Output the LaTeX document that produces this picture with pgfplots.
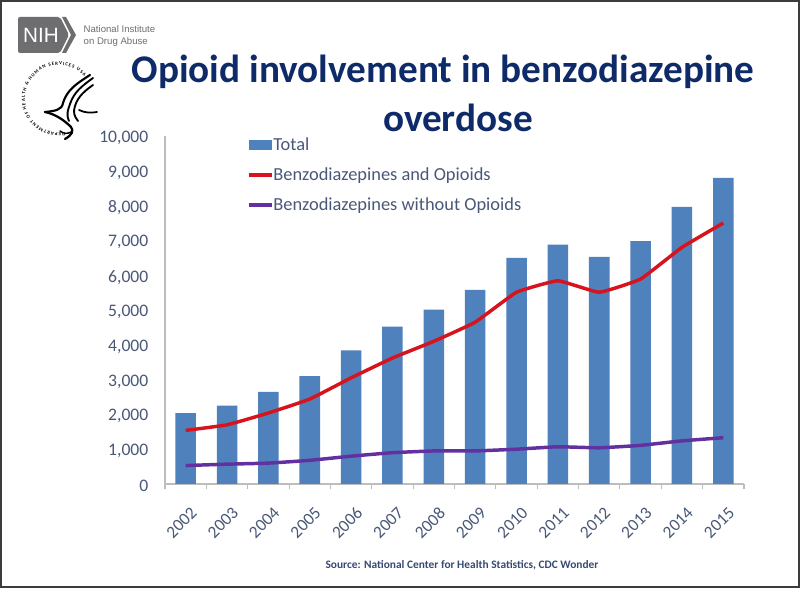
\documentclass[border=0pt]{standalone}
\usepackage{fontspec}
\setmainfont{Carlito}
\newfontfamily\arialfont{Liberation Sans}
\usepackage{pgfplots}
\pgfplotsset{compat=1.18}
\usetikzlibrary{decorations.text}
\definecolor{barblue}{HTML}{4F81BD}
\definecolor{linered}{HTML}{D7141E}
\definecolor{linepurple}{HTML}{6330A0}
\definecolor{titlenavy}{HTML}{0E2A68}
\definecolor{ticktext}{HTML}{4A5878}
\definecolor{axisgrey}{HTML}{BDBDBD}
\definecolor{nihgrey}{HTML}{6E6E70}
\definecolor{framegrey}{HTML}{3C3C3C}
\begin{document}
\begin{tikzpicture}
\useasboundingbox (0,0) rectangle (600pt,441.75pt);
\fill[white] (0,0) rectangle (600pt,441.75pt);
\draw[framegrey,line width=1.5pt] (0.5pt,1.2pt) rectangle (599.3pt,441.2pt);

\begin{axis}[
    at={(123.75pt,78.75pt)}, anchor=south west,
    scale only axis,
    width=434.25pt, height=261pt,
    xmin=-0.5, xmax=13.5, ymin=0, ymax=10000,
    axis lines=left,
    axis line style={axisgrey,line width=0.8pt,-},
    xtick=data,
    xticklabels={2002,2003,2004,2005,2006,2007,2008,2009,2010,2011,2012,2013,2014,2015},
    minor xtick={-0.5,0.5,...,13.5},
    ytick={0,1000,...,10000},
    scaled y ticks=false,
    yticklabel style={/pgf/number format/fixed,/pgf/number format/1000 sep={,},/pgf/number format/assume math mode=true},
    major tick length=0pt,
    minor tick length=3.8pt,
    tick align=outside,
    tick style={axisgrey,line width=0.8pt},
    x tick label style={rotate=45,anchor=north east,font=\fontsize{13}{13}\selectfont,text=ticktext,xshift=-6pt,yshift=-10.5pt},
    y tick label style={font=\fontsize{13.2}{13.2}\selectfont,text=ticktext,xshift=-9pt,yshift=-1.5pt},
    clip=false,
    legend cell align=left,
    legend style={draw=none,fill=none,at={(axis cs:1.48,9950)},anchor=north west,
        font=\fontsize{13.8}{13.8}\selectfont,text=ticktext,
        row sep=11.2pt,inner sep=0pt,nodes={inner sep=0pt}},
]
\addplot[ybar,bar width=15.4pt,draw=none,fill=barblue,
    legend image code/.code={\fill[barblue] (0cm,-3.7pt) rectangle (0.6cm,3.7pt);}] coordinates {
    (0,2040)(1,2250)(2,2650)(3,3100)(4,3840)(5,4520)(6,5010)(7,5575)
    (8,6500)(9,6880)(10,6530)(11,6980)(12,7960)(13,8800)};
\addlegendentry{Total}
\addplot[linered,line width=2.6pt,smooth,tension=0.2] coordinates {
    (0,1540)(1,1700)(2,2040)(3,2440)(4,3050)(5,3620)(6,4100)(7,4650)
    (8,5510)(9,5840)(10,5510)(11,5890)(12,6800)(13,7500)};
\addlegendentry{Benzodiazepines and Opioids}
\addplot[linepurple,line width=2.6pt,smooth,tension=0.2] coordinates {
    (0,530)(1,570)(2,600)(3,680)(4,800)(5,900)(6,950)(7,950)
    (8,1000)(9,1070)(10,1040)(11,1110)(12,1240)(13,1330)};
\addlegendentry{Benzodiazepines without Opioids}
\end{axis}

% title, source, logos in image pixel coordinates
\begin{scope}[x=0.75pt,y=-0.75pt,yshift=441.75pt]
\node[font=\fontsize{29.4}{30}\bfseries\selectfont,text=titlenavy] at (443,72) {Opioid involvement in benzodiazepine};
\node[font=\fontsize{29.4}{30}\bfseries\selectfont,text=titlenavy] at (458,118) {overdose};
\node[font=\fontsize{8.55}{9}\bfseries\selectfont,text=ticktext!70!titlenavy] at (462,565) {Source: National Center for Health Statistics, CDC Wonder};

% NIH logo
\fill[nihgrey,rounded corners=1.5pt] (18,17) -- (60,17) -- (69,35) -- (60,53) -- (18,53) -- cycle;
\fill[nihgrey] (62,17) -- (66,17) -- (76,35) -- (66,53) -- (62,53) -- (71,35) -- cycle;
\node[font=\arialfont\fontsize{15.5}{15.5}\selectfont,text=white] at (41,35.5) {NIH};
\node[anchor=west,font=\arialfont\fontsize{7.2}{7.2}\selectfont,text=nihgrey] at (79,29.5) {National Institute};
\node[anchor=west,font=\arialfont\fontsize{7.2}{7.2}\selectfont,text=nihgrey] at (79,42.5) {on Drug Abuse};

% HHS eagle
\begin{scope}[black,line cap=round]
\draw[line width=1.6pt] (90,75) .. controls (76,84) and (67,90) .. (63,103) .. controls (62,110) and (55,111) .. (45,112);
\draw[line width=1.4pt] (93,78) .. controls (82,86) and (74,92) .. (70,104) .. controls (68,110) and (66,114) .. (69,121);
\draw[line width=1.4pt] (93,85) .. controls (86,90) and (78,96) .. (75,106) .. controls (73,112) and (74,116) .. (78,121);
\draw[line width=1.7pt] (45,112) .. controls (55,114) and (64,120) .. (71,127) .. controls (74,131) and (72,135) .. (65,139);
\draw[line width=1.3pt] (79,110) .. controls (85,113) and (91,113) .. (97,112);
\draw[line width=1.1pt] (60,131) .. controls (64,134) and (67,134) .. (71,132);
\end{scope}
\end{scope}
\path[decorate,decoration={text along path,text align=fit to path,
      text={|\fontsize{3.6}{4}\bfseries\selectfont|DEPARTMENT OF HEALTH {\&} HUMAN SERVICES USA}}]
    (44.25pt,367.5pt) ++(-80:25.5pt) arc[start angle=-80,end angle=-318,radius=25.5pt];
\end{tikzpicture}
\end{document}
